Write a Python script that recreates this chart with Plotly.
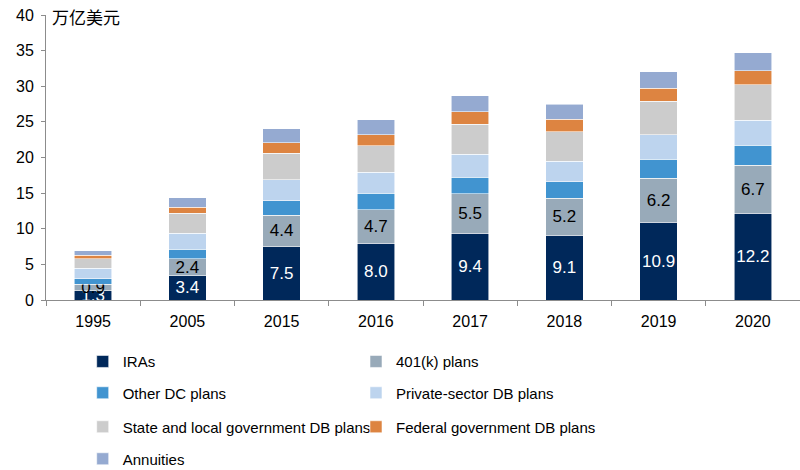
import plotly.graph_objects as go

# Categories (years)
years = ["1995", "2005", "2015", "2016", "2017", "2018", "2019", "2020"]

# Retirement assets by plan type, trillions of US dollars
iras = [1.3, 3.4, 7.5, 8.0, 9.4, 9.1, 10.9, 12.2]
k401 = [0.9, 2.4, 4.4, 4.7, 5.5, 5.2, 6.2, 6.7]
other_dc = [0.75, 1.3, 2.0, 2.25, 2.35, 2.3, 2.65, 2.85]
private_db = [1.5, 2.25, 2.95, 2.95, 3.2, 2.9, 3.45, 3.45]
state_local_db = [1.35, 2.8, 3.75, 3.75, 4.25, 4.1, 4.7, 5.0]
federal_db = [0.45, 0.85, 1.45, 1.55, 1.75, 1.8, 1.8, 2.0]
annuities = [0.65, 1.35, 2.0, 2.1, 2.2, 2.1, 2.35, 2.5]

series_names = [
    "IRAs",
    "401(k) plans",
    "Other DC plans",
    "Private-sector DB plans",
    "State and local government DB plans",
    "Federal government DB plans",
    "Annuities",
]
series_values = [iras, k401, other_dc, private_db, state_local_db, federal_db, annuities]
series_colors = ["#00285A", "#98AAB9", "#4194D0", "#BDD4EE", "#CCCCCC", "#DD8441", "#95AAD1"]

FONT = "Liberation Sans, Arial, sans-serif"

# Legend grid: two columns, four rows (pixel positions of the entry text)
col_text_x = [122.7, 396.0]
row_center_y = [361.7, 393.0, 427.0, 459.0]
W, H = 800, 470

fig = go.Figure()
legend_layouts = {}
for i, (name, vals, col) in enumerate(zip(series_names, series_values, series_colors)):
    labelled = i < 2
    lg = "legend" if i == 0 else f"legend{i + 1}"
    fig.add_trace(go.Bar(
        x=years,
        y=vals,
        name=name,
        showlegend=True,
        marker=dict(color=col, line=dict(color="rgba(255,255,255,0.7)", width=0.8)),
        legend=lg,
        texttemplate="%{y:.1f}" if labelled else None,
        textposition="inside" if labelled else "none",
        insidetextanchor="middle",
        textangle=0,
        textfont=dict(family=FONT, size=17, color="white" if i == 0 else "black"),
        hoverinfo="skip",
    ))
    legend_layouts[lg] = dict(
        visible=True,
        orientation="h",
        xref="container",
        yref="container",
        xanchor="left",
        yanchor="middle",
        x=(col_text_x[i % 2] - 40) / W,
        y=1 - row_center_y[i // 2] / H,
        font=dict(family=FONT, size=15, color="#000000"),
        bgcolor="rgba(0,0,0,0)",
        itemclick=False,
        itemdoubleclick=False,
    )

fig.update_layout(
    width=W,
    height=H,
    showlegend=True,
    barmode="stack",
    bargap=0.6,
    plot_bgcolor="white",
    paper_bgcolor="white",
    margin=dict(l=46, r=0, t=15, b=170),
    font=dict(family=FONT, size=16, color="#000000"),
    uniformtext=dict(minsize=17, mode="show"),
    xaxis=dict(
        type="category",
        showline=True,
        linecolor="#8C8C8C",
        linewidth=1,
        ticks="outside",
        tickson="boundaries",
        ticklen=5,
        tickcolor="#8C8C8C",
        tickfont=dict(family=FONT, size=16, color="#000000"),
        ticklabelstandoff=7,
        showgrid=False,
    ),
    yaxis=dict(
        range=[0, 40],
        dtick=5,
        showline=True,
        linecolor="#8C8C8C",
        linewidth=1,
        ticks="outside",
        ticklen=4,
        tickcolor="#8C8C8C",
        tickfont=dict(family=FONT, size=16, color="#000000"),
        ticklabelstandoff=4,
        showgrid=False,
        zeroline=False,
    ),
    annotations=[
        dict(
            text="万亿美元",
            xref="paper",
            yref="paper",
            x=0.005,
            y=0.995,
            xanchor="left",
            yanchor="middle",
            showarrow=False,
            font=dict(family="Noto Sans CJK SC, sans-serif", size=17, color="#000000"),
        )
    ],
    **legend_layouts,
)

fig.write_html("out.html")
